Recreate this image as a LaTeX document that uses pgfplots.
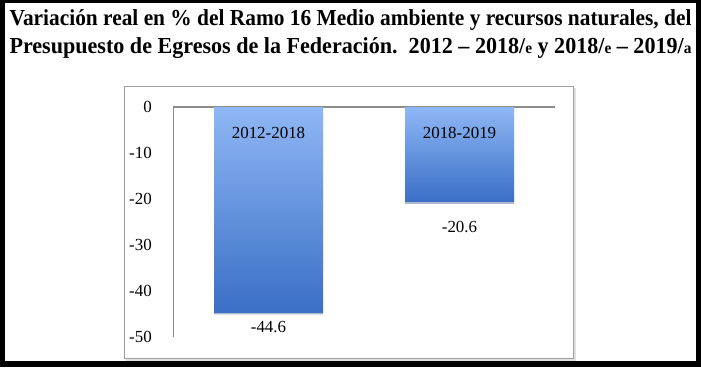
\documentclass[border=0pt]{standalone}
\usepackage{fontspec}
\setmainfont{Liberation Serif}
\usepackage{pgfplots}
\pgfplotsset{compat=1.18}
\usetikzlibrary{shadows}
\definecolor{barTop}{HTML}{8FB7F5}
\definecolor{barBot}{HTML}{3A6FC6}
\definecolor{frameGray}{HTML}{A0A0A0}
\definecolor{axisGray}{HTML}{8C8C8C}
\newcommand\fitline[2]{%
  \setbox0\hbox{#2}%
  \pgfmathsetmacro\sx{#1/\the\wd0}%
  \scalebox{\sx}[1]{\box0}}
\begin{document}
\begin{tikzpicture}[x=1bp,y=1bp]
\path[use as bounding box] (0,0) rectangle (701,367);
\fill[black] (0,0) rectangle (701,367);
\fill[white] (5,6) rectangle (696,364);
% inner chart frame with light shadow
\draw[black!12, line width=2bp] (126,7.5) -- (575,7.5) -- (575,279);
\draw[frameGray, line width=1bp] (124,9) rectangle (573,281);
% title
\node[anchor=base, inner sep=0pt] at (350.5,342) {\fitline{684.5}{\fontsize{23}{23}\selectfont\bfseries Variación real en \% del Ramo 16 Medio ambiente y recursos naturales, del}};
\node[anchor=base, inner sep=0pt] at (350.5,314) {\fitline{684.5}{\fontsize{23}{23}\selectfont\bfseries Presupuesto de Egresos de la Federación.\ \ 2012 – 2018/{\fontsize{16}{16}\selectfont e} y 2018/{\fontsize{16}{16}\selectfont e} – 2019/{\fontsize{16}{16}\selectfont a}}};
\begin{axis}[
  at={(173bp,30bp)}, anchor=south west,
  scale only axis, width=382bp, height=230bp,
  xmin=-0.5, xmax=1.5, ymin=-50, ymax=0,
  axis x line*=top, axis y line*=left,
  x axis line style={axisGray, line width=1.6bp, -},
  y axis line style={axisGray, line width=0.8bp, -},
  xtick=\empty,
  ytick={-50,-40,-30,-20,-10,0},
  major tick length=0pt,
  yticklabel style={anchor=east, inner sep=0pt, xshift=-21bp, font=\fontsize{17}{17}\selectfont},
  /pgf/number format/assume math mode=true,
  clip=false,
  nodes near coords,
  every node near coord/.append style={font=\fontsize{17}{17}\selectfont, inner sep=0pt, anchor=north},
]
\addplot[ybar, bar width=0.5707, bar shift=0pt, draw=none, top color=barTop, bottom color=barBot,
  drop shadow={shadow xshift=0bp, shadow yshift=-2bp, fill=black, opacity=0.2},
  every node near coord/.append style={yshift=-9bp}]
  coordinates {(0,-44.6)};
\addplot[ybar, bar width=0.5707, bar shift=0pt, draw=none, top color=barTop, bottom color=barBot,
  drop shadow={shadow xshift=0bp, shadow yshift=-2bp, fill=black, opacity=0.2},
  every node near coord/.append style={yshift=-19bp}]
  coordinates {(1,-20.6)};
% category names inside the bars
\addplot[draw=none, mark=none, point meta=explicit symbolic,
  nodes near coords,
  every node near coord/.append style={anchor=center, yshift=-26bp}]
  coordinates {(0,0) [2012-2018] (1,0) [2018-2019]};
\end{axis}
\end{tikzpicture}
\end{document}
